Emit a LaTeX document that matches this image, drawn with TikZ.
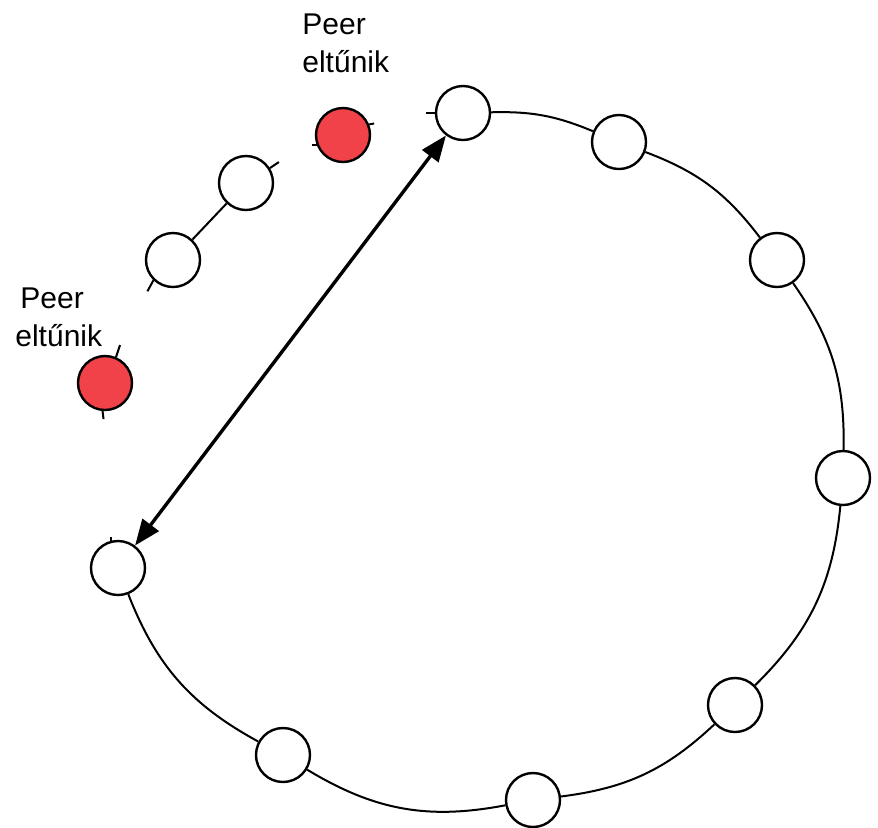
\documentclass[tikz,border=0pt]{standalone}
\usepackage{fontspec}
\setmainfont{Liberation Sans}
\usetikzlibrary{arrows.meta}
\definecolor{peerred}{RGB}{240,66,72}
\begin{document}
\begin{tikzpicture}[x=0.5pt,y=-0.5pt,
  peer/.style={circle,draw=black,line width=1.2pt,fill=white,minimum size=27pt,inner sep=0pt},
  gone/.style={peer,fill=peerred},
  ring/.style={line width=1pt},
  stub/.style={line width=1pt},
  jump/.style={line width=1.7pt,{Triangle[length=13pt,width=10pt]}-{Triangle[length=13pt,width=10pt]}},
  lbl/.style={font=\fontsize{15pt}{19pt}\selectfont,align=left,inner sep=0pt,anchor=north west}]
\useasboundingbox (0,0) rectangle (878,827);
% ring peers
\node[peer] (A) at (463,113) {};
\node[peer] (B) at (619,142) {};
\node[peer] (C) at (777,260) {};
\node[peer] (D) at (843,478) {};
\node[peer] (E) at (735,705) {};
\node[peer] (F) at (533,800) {};
\node[peer] (G) at (283,755) {};
\node[peer] (H) at (118,568) {};
% broken-off peers
\node[gone] (R1) at (343,135) {};
\node[peer] (W1) at (246,183) {};
\node[peer] (W2) at (173,260) {};
\node[gone] (R2) at (105,383) {};
% ring connections
\draw[ring] (A) to[bend left=12] (B);
\draw[ring] (B) to[bend left=16] (C);
\draw[ring] (C) to[bend left=18] (D);
\draw[ring] (D) to[bend left=20] (E);
\draw[ring] (E) to[bend left=18] (F);
\draw[ring] (F) to[bend left=21] (G);
\draw[ring] (G) to[bend left=20] (H);
\draw[ring] (W1) -- (W2);
% stubs
\draw[stub] (A.west) -- ++(-9,0);
\draw[stub] (H.105) -- ++(0,-4);
\draw[stub] (R1.22) -- ++(5,-1);
\draw[stub] (R1.201) -- ++(-5,0);
\draw[stub] (W1.32) -- ++(9,-6);
\draw[stub] (W2.226) -- ++(-6,11);
\draw[stub] (R2.67) -- ++(4,-12);
\draw[stub] (R2.265) -- ++(1,8);
% long jump
\draw[jump] (A) -- (H);
% labels
\node[lbl] (L1) at (302,13) {Peer\\eltűnik};
\node[lbl] (L2) at (15,287) {\hspace*{2.5pt}Peer\\eltűnik};
\end{tikzpicture}
\end{document}
